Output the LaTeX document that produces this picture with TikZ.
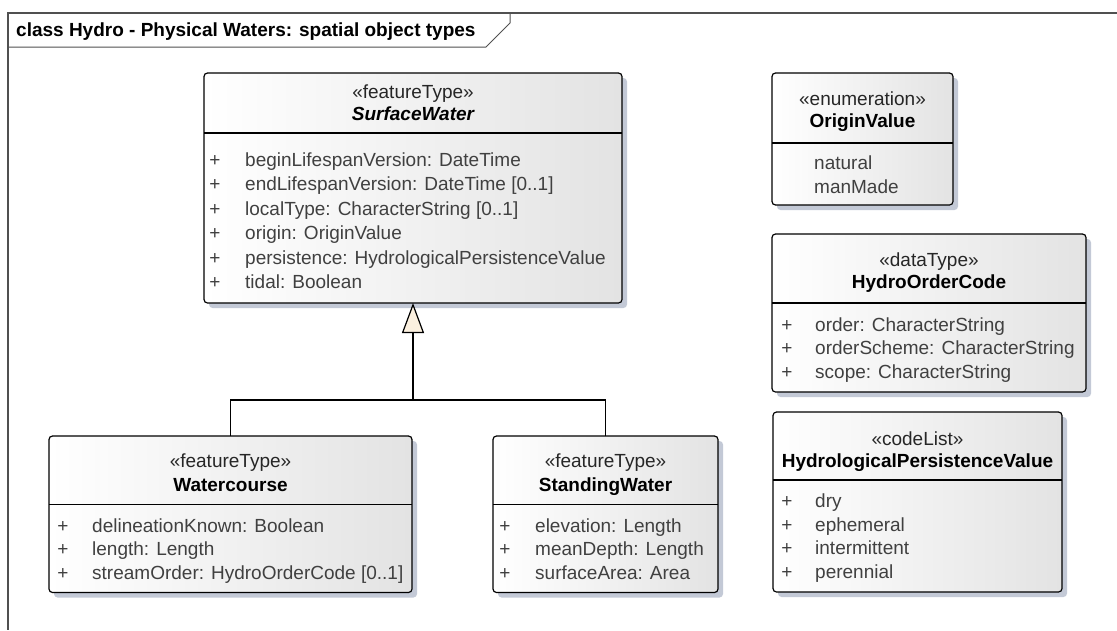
\documentclass[tikz,border=0pt]{standalone}
\usepackage{fontspec}
\setmainfont{Liberation Sans}
\usetikzlibrary{arrows.meta,shadows}

\definecolor{attrgray}{HTML}{404040}
\definecolor{shadowblue}{HTML}{C3C9D6}
\definecolor{gencream}{HTML}{FBF0DF}
\definecolor{framegray}{HTML}{505050}

\tikzset{
  classbox/.style={draw, line width=1.2pt, rounded corners=3.5pt, anchor=north west,
    inner sep=0pt, outer sep=0pt, left color=white, right color=black!11,
    drop shadow={shadow xshift=5pt, shadow yshift=-5pt, fill=shadowblue, opacity=1}},
  txt/.style={inner sep=0pt, text height=14pt, text depth=4pt, font=\fontsize{19}{22}\selectfont},
  stereo/.style={txt, text=black!85},
  cname/.style={txt, font=\fontsize{19}{22}\selectfont\bfseries},
  attr/.style={txt, anchor=west, text=attrgray},
  plus/.style={txt, text=attrgray},
  sepline/.style={line width=1.2pt},
}

\begin{document}
\begin{tikzpicture}[x=1pt,y=-1pt]
    \useasboundingbox (0,0) rectangle (1117,630);

    % Diagram frame and title tab
    \draw[framegray, line width=1.2pt] (1117,13) -- (8,13) -- (8,630);
    \draw[framegray, line width=1pt] (8,47) -- (486,47) -- (510,23) -- (510,13);
    \node[cname, anchor=west] (title) at (16,31)
        {class Hydro - Physical Waters: spatial object types};

    % SurfaceWater
    \node[classbox, minimum width=418pt, minimum height=230pt] (surface) at (204,73) {};
    \draw[sepline] (surface.west |- 0,133) -- (surface.east |- 0,133);
    \node[stereo] (surface-st) at (413,93) {«featureType»};
    \node[cname] (surface-nm) at (413,115) {\itshape SurfaceWater};
    \foreach \t [count=\i] in {beginLifespanVersion: DateTime, endLifespanVersion: DateTime [0..1],
        localType: CharacterString [0..1], origin: OriginValue,
        persistence: HydrologicalPersistenceValue, tidal: Boolean} {
      \node[plus] (surface-p\i) at (215,{136.5+24.5*\i}) {+};
      \node[attr] (surface-a\i) at (245,{136.5+24.5*\i}) {\t};
    }

    % OriginValue
    \node[classbox, minimum width=181pt, minimum height=132pt] (origin) at (772,73) {};
    \draw[sepline] (origin.west |- 0,143) -- (origin.east |- 0,143);
    \node[stereo] (origin-st) at (862.5,100) {«enumeration»};
    \node[cname] (origin-nm) at (862.5,122) {OriginValue};
    \node[attr] (origin-a1) at (814,164) {natural};
    \node[attr] (origin-a2) at (814,188) {manMade};

    % HydroOrderCode
    \node[classbox, minimum width=314pt, minimum height=158pt] (order) at (772,234) {};
    \draw[sepline] (order.west |- 0,303) -- (order.east |- 0,303);
    \node[stereo] (order-st) at (929,261) {«dataType»};
    \node[cname] (order-nm) at (929,283) {HydroOrderCode};
    \foreach \t [count=\i] in {order: CharacterString, orderScheme: CharacterString,
        scope: CharacterString} {
      \node[plus] (order-p\i) at (787,{302.5+23.5*\i}) {+};
      \node[attr] (order-a\i) at (815,{302.5+23.5*\i}) {\t};
    }

    % HydrologicalPersistenceValue
    \node[classbox, minimum width=289pt, minimum height=180pt] (persist) at (773,412) {};
    \draw[sepline] (persist.west |- 0,480) -- (persist.east |- 0,480);
    \node[stereo] (persist-st) at (917.5,440) {«codeList»};
    \node[cname] (persist-nm) at (917.5,462) {HydrologicalPersistenceValue};
    \foreach \t [count=\i] in {dry, ephemeral, intermittent, perennial} {
      \node[plus] (persist-p\i) at (787,{479+23.5*\i}) {+};
      \node[attr] (persist-a\i) at (815,{479+23.5*\i}) {\t};
    }

    % Watercourse
    \node[classbox, minimum width=363pt, minimum height=156.5pt] (course) at (49,436) {};
    \draw[sepline] (course.west |- 0,504.5) -- (course.east |- 0,504.5);
    \node[stereo] (course-st) at (230.5,462) {«featureType»};
    \node[cname] (course-nm) at (230.5,486) {Watercourse};
    \foreach \t [count=\i] in {delineationKnown: Boolean, length: Length,
        streamOrder: HydroOrderCode [0..1]} {
      \node[plus] (course-p\i) at (63,{503.5+23.5*\i}) {+};
      \node[attr] (course-a\i) at (92,{503.5+23.5*\i}) {\t};
    }

    % StandingWater
    \node[classbox, minimum width=225pt, minimum height=156.5pt] (standing) at (493,436) {};
    \draw[sepline] (standing.west |- 0,504.5) -- (standing.east |- 0,504.5);
    \node[stereo] (standing-st) at (605.5,462) {«featureType»};
    \node[cname] (standing-nm) at (605.5,486) {StandingWater};
    \foreach \t [count=\i] in {elevation: Length, meanDepth: Length, surfaceArea: Area} {
      \node[plus] (standing-p\i) at (505,{503.5+23.5*\i}) {+};
      \node[attr] (standing-a\i) at (535,{503.5+23.5*\i}) {\t};
    }

    % Generalization
    \coordinate (gen) at (413,400);
    \draw[line width=1.2pt, -{Triangle[open, length=30pt, width=22pt, fill=gencream]}]
        (course.north) |- (gen) -- (gen |- surface.south);
    \draw[line width=1.2pt] (standing.north) |- (gen);
\end{tikzpicture}
\end{document}
